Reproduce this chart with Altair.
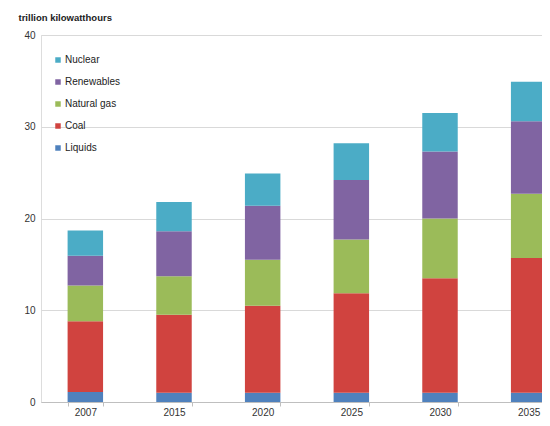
import altair as alt
import pandas as pd

years = ["2007", "2015", "2020", "2025", "2030", "2035"]
sources = ["Liquids", "Coal", "Natural gas", "Renewables", "Nuclear"]
liquids = [1.1, 1.0, 1.0, 1.0, 1.0, 1.0]
coal = [7.7, 8.5, 9.5, 10.85, 12.5, 14.7]
natural_gas = [3.9, 4.2, 5.0, 5.85, 6.5, 7.0]
renewables = [3.25, 4.9, 5.9, 6.5, 7.3, 7.9]
nuclear = [2.75, 3.2, 3.5, 4.0, 4.2, 4.3]

series = [liquids, coal, natural_gas, renewables, nuclear]
rows = []
for si, (name, vals) in enumerate(zip(sources, series)):
    for y, v in zip(years, vals):
        rows.append({"year": y, "source": name, "value": v, "idx": si})
df = pd.DataFrame(rows)

legend_order = ["Nuclear", "Renewables", "Natural gas", "Coal", "Liquids"]
colors = ["#4BACC6", "#8064A2", "#9BBB59", "#D0433F", "#4F81BD"]

chart = alt.Chart(df).mark_bar(clip=True).encode(
    x=alt.X("year:N", sort=years, title=None,
            scale=alt.Scale(range=[0, 532], paddingInner=0.6, paddingOuter=0.3),
            axis=alt.Axis(labelAngle=0, tickBand="extent", tickSize=4,
                          domainColor="#bfbfbf", tickColor="#bfbfbf",
                          labelFont="Liberation Sans", labelFontSize=10,
                          labelColor="#333333", labelPadding=1, grid=False)),
    y=alt.Y("value:Q", stack="zero",
            scale=alt.Scale(domain=[0, 40], nice=False),
            axis=alt.Axis(values=[0, 10, 20, 30, 40], title="trillion kilowatthours",
                          titleAngle=0, titleX=-23, titleY=-15, titleAlign="left",
                          titleBaseline="alphabetic",
                          titleFont="Liberation Sans", titleFontSize=9.5,
                          titleFontWeight="bold", titleColor="#222222",
                          labelFont="Liberation Sans", labelFontSize=10,
                          labelColor="#333333", labelPadding=6,
                          domain=False, ticks=False,
                          gridColor="#d9d9d9", gridWidth=1)),
    color=alt.Color("source:N",
                    scale=alt.Scale(domain=legend_order, range=colors),
                    legend=alt.Legend(title=None, orient="none", legendX=12, legendY=20,
                                      symbolType="square", symbolSize=30,
                                      symbolStrokeWidth=0,
                                      labelFont="Liberation Sans", labelFontSize=10,
                                      labelColor="#222222", rowPadding=12,
                                      labelOffset=2)),
    order=alt.Order("idx:Q", sort="ascending"),
).properties(
    width=501, height=367,
    autosize=alt.AutoSizeParams(type="none"),
    padding={"left": 33, "top": 27, "right": 0, "bottom": 16},
).configure_view(stroke=None).configure(background="white")

chart.save("out.html", embed_options={"renderer": "svg", "actions": False})
